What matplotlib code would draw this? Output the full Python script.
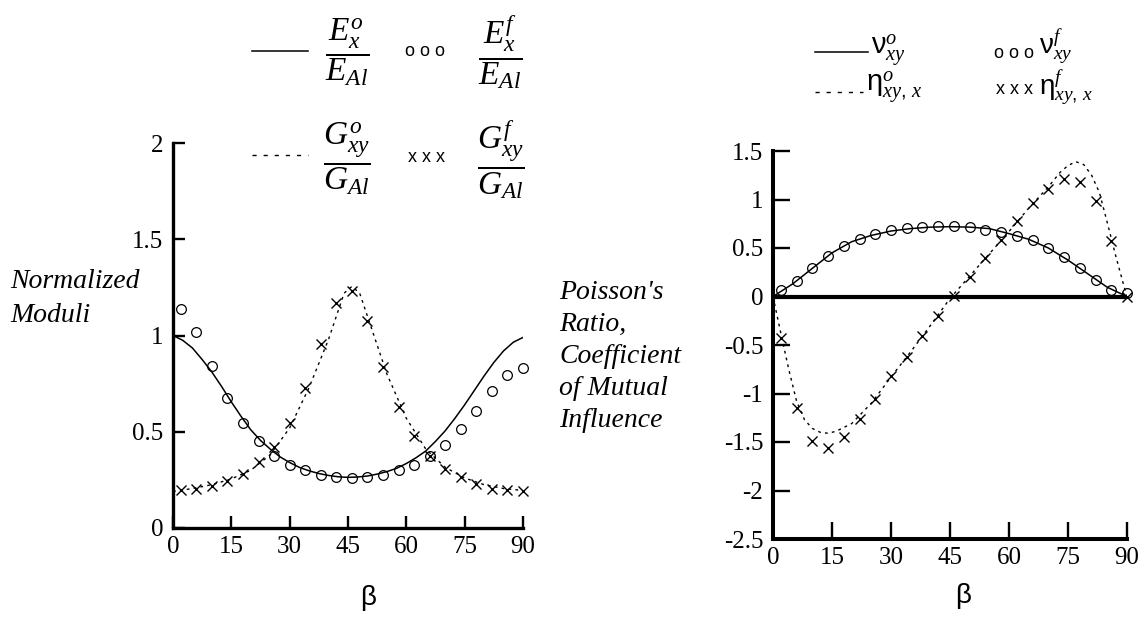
import matplotlib
matplotlib.use("Agg")
import matplotlib.pyplot as plt
from matplotlib.lines import Line2D

# ---------------------------------------------------------------------------
# data

beta_pts = [2, 6, 10, 14, 18, 22, 26, 30, 34, 38, 42, 46, 50, 54, 58, 62, 66, 70, 74, 78, 82, 86, 90]

# left panel: normalized moduli
beta_E = [0, 2.5, 5, 7.5, 10, 12.5, 15, 17.5, 20, 22.5, 25, 27.5, 30, 32.5, 35, 37.5, 40, 42.5,
          45, 47.5, 50, 52.5, 55, 57.5, 60, 62.5, 65, 67.5, 70, 72.5, 75, 77.5, 80, 82.5, 85,
          87.5, 90]
Ex_o = [1.0, 0.975, 0.935, 0.875, 0.81, 0.735, 0.655, 0.58, 0.51, 0.455, 0.41, 0.37, 0.34,
        0.315, 0.297, 0.283, 0.273, 0.266, 0.263, 0.265, 0.27, 0.28, 0.293, 0.31, 0.335, 0.365,
        0.40, 0.45, 0.505, 0.57, 0.64, 0.715, 0.79, 0.86, 0.92, 0.965, 0.99]
Ex_f = [1.14, 1.02, 0.84, 0.675, 0.545, 0.45, 0.376, 0.329, 0.30, 0.277, 0.263, 0.26, 0.265,
        0.277, 0.30, 0.329, 0.372, 0.433, 0.514, 0.61, 0.713, 0.797, 0.83]
beta_G = [0, 5, 10, 15, 20, 25, 30, 35, 40, 44, 46, 48, 50, 55, 60, 65, 70, 75, 80, 85, 90]
Gxy_o = [0.19, 0.205, 0.225, 0.255, 0.30, 0.38, 0.52, 0.73, 0.98, 1.22, 1.255, 1.22, 1.10,
         0.80, 0.57, 0.41, 0.315, 0.26, 0.225, 0.205, 0.195]
Gxy_f = [0.196, 0.203, 0.22, 0.246, 0.28, 0.341, 0.42, 0.545, 0.727, 0.956, 1.169, 1.229, 1.074,
         0.836, 0.629, 0.48, 0.372, 0.306, 0.263, 0.229, 0.203, 0.196, 0.19]

# right panel: Poisson's ratio / mutual influence
beta_nu = [0, 5, 10, 15, 20, 25, 30, 35, 40, 45, 50, 55, 60, 65, 70, 75, 80, 85, 90]
nu_o = [0.0, 0.13, 0.29, 0.45, 0.565, 0.63, 0.675, 0.70, 0.715, 0.72, 0.715, 0.70, 0.648,
        0.59, 0.50, 0.375, 0.235, 0.095, 0.0]
nu_f = [0.062, 0.155, 0.293, 0.42, 0.524, 0.597, 0.648, 0.683, 0.707, 0.717, 0.724, 0.724,
        0.714, 0.69, 0.662, 0.628, 0.579, 0.5, 0.403, 0.293, 0.172, 0.069, 0.041]
beta_eta = [0, 2, 4, 6, 8, 10, 12, 14, 16, 18, 20, 25, 30, 35, 40, 45, 50, 55, 60, 65, 70,
            73, 75, 77, 79, 81, 83, 85, 87, 89, 90]
eta_o = [0.0, -0.38, -0.75, -1.08, -1.27, -1.36, -1.40, -1.41, -1.39, -1.35, -1.31, -1.10,
         -0.83, -0.57, -0.30, -0.02, 0.21, 0.44, 0.67, 0.91, 1.13, 1.28, 1.35, 1.39, 1.36,
         1.25, 1.07, 0.76, 0.44, 0.14, 0.0]
eta_f = [-0.431, -1.145, -1.493, -1.559, -1.448, -1.259, -1.052, -0.821, -0.621, -0.403, -0.2,
         0.007, 0.2, 0.397, 0.586, 0.783, 0.966, 1.11, 1.207, 1.179, 0.983, 0.569, 0.0]

x_ticks = [0, 15, 30, 45, 60, 75, 90]
x_ticklabels = ["0", "15", "30", "45", "60", "75", "90"]
left_yticks = [0, 0.5, 1, 1.5, 2]
left_yticklabels = ["0", "0.5", "1", "1.5", "2"]
right_yticks = [-2.5, -2, -1.5, -1, -0.5, 0, 0.5, 1, 1.5]
right_yticklabels = ["-2.5", "-2", "-1.5", "-1", "-0.5", "0", "0.5", "1", "1.5"]

# ---------------------------------------------------------------------------

plt.rcParams["font.family"] = ["Liberation Serif", "DejaVu Serif"]
plt.rcParams["mathtext.fontset"] = "custom"
plt.rcParams["mathtext.rm"] = "Liberation Sans"
plt.rcParams["mathtext.it"] = "Liberation Serif:italic"
plt.rcParams["mathtext.bf"] = "Liberation Serif:bold"
plt.rcParams["mathtext.sf"] = "Liberation Sans"

W, H = 1145, 618
fig = plt.figure(figsize=(W / 100, H / 100), dpi=100)


def fx(x):
    return x / W


def fy(y):
    return 1 - y / H


ax1 = fig.add_axes([fx(173), fy(528), fx(523) - fx(173), fy(143) - fy(528)])
ax2 = fig.add_axes([fx(773), fy(539), fx(1127) - fx(773), fy(151) - fy(539)])

dots = (2, 3)
ax1.plot(beta_E, Ex_o, color="black", lw=1.1)
ax1.plot(beta_G, Gxy_o, color="black", lw=1.0, dashes=dots)
ax1.plot(beta_pts, Ex_f, "o", ms=7, mfc="none", mec="black", mew=0.9, clip_on=False)
ax1.plot(beta_pts, Gxy_f, "x", ms=7.5, color="black", mew=1.0, clip_on=False)

ax2.axhline(0, color="black", lw=3.0)
ax2.plot(beta_nu, nu_o, color="black", lw=1.1)
ax2.plot(beta_eta, eta_o, color="black", lw=1.0, dashes=dots)
ax2.plot(beta_pts, nu_f, "o", ms=7, mfc="none", mec="black", mew=0.9, clip_on=False)
ax2.plot(beta_pts, eta_f, "x", ms=7.5, color="black", mew=1.0, clip_on=False)

for ax, yt, ytl, ylim, spw, tlen in [
    (ax1, left_yticks, left_yticklabels, (0, 2), 2.4, 8.5),
    (ax2, right_yticks, right_yticklabels, (-2.5, 1.5), 2.9, 12.5),
]:
    ax.set_xlim(0, 90)
    ax.set_ylim(*ylim)
    ax.set_xticks(x_ticks, x_ticklabels)
    ax.set_yticks(yt, ytl)
    for s in ["top", "right"]:
        ax.spines[s].set_visible(False)
    for s in ["left", "bottom"]:
        ax.spines[s].set_linewidth(spw)
    ax.tick_params(direction="in", length=tlen, width=1.7, labelsize=18)
    ax.tick_params(axis="x", pad=6)
    ax.tick_params(axis="y", pad=7)
    ax.patch.set_alpha(0)

# axis labels
fig.text(fx(368), fy(598), "β", fontsize=20, family="Liberation Sans", ha="center", va="center")
fig.text(fx(963), fy(596), "β", fontsize=20, family="Liberation Sans", ha="center", va="center")

for txt, yb in [("Normalized", 288), ("Moduli", 322)]:
    fig.text(fx(10), fy(yb), txt, fontsize=20, style="italic", va="baseline", ha="left")
for txt, yb in [("Poisson's", 299), ("Ratio,", 331), ("Coefficient", 363),
                ("of Mutual", 395), ("Influence", 427)]:
    fig.text(fx(559), fy(yb), txt, fontsize=20, style="italic", va="baseline", ha="left")

# legends drawn by hand, as in the original
fig.add_artist(Line2D([fx(252), fx(308)], [fy(51), fy(51)], color="black", lw=1.1))
fig.add_artist(Line2D([fx(252), fx(308)], [fy(155), fy(155)], color="black", lw=1.0, dashes=(3, 5)))
fig.text(fx(347), fy(52), r"$\dfrac{E_x^o}{E_{Al}}$", fontsize=24, ha="center", va="center")
fig.text(fx(500), fy(52), r"$\dfrac{E_x^f}{E_{Al}}$", fontsize=24, ha="center", va="center")
fig.text(fx(347), fy(159), r"$\dfrac{G_{xy}^o}{G_{Al}}$", fontsize=24, ha="center", va="center")
fig.text(fx(501), fy(159), r"$\dfrac{G_{xy}^f}{G_{Al}}$", fontsize=24, ha="center", va="center")
fig.text(fx(425), fy(52), "o o o", fontsize=13, family="Liberation Sans", ha="center", va="center")
fig.text(fx(426), fy(157), "x x x", fontsize=13, family="Liberation Sans", ha="center", va="center")

fig.add_artist(Line2D([fx(815), fx(868)], [fy(52), fy(52)], color="black", lw=1.1))
fig.add_artist(Line2D([fx(815), fx(863)], [fy(92), fy(92)], color="black", lw=1.0, dashes=(3, 5)))
fig.text(fx(871), fy(55), r"$\mathrm{\nu}_{xy}^{o}$", fontsize=21, ha="left", va="baseline")
fig.text(fx(1039), fy(54), r"$\mathrm{\nu}_{xy}^{f}$", fontsize=20, ha="left", va="baseline")
fig.text(fx(866), fy(92), r"$\mathrm{\eta}_{xy,\,x}^{o}$", fontsize=21, ha="left", va="baseline")
fig.text(fx(1039), fy(95), r"$\mathrm{\eta}_{xy,\,x}^{f}$", fontsize=20, ha="left", va="baseline")
fig.text(fx(1014), fy(53), "o o o", fontsize=13, family="Liberation Sans", ha="center", va="center")
fig.text(fx(1014), fy(90), "x x x", fontsize=13, family="Liberation Sans", ha="center", va="center")

fig.savefig("out.png", dpi=100)
